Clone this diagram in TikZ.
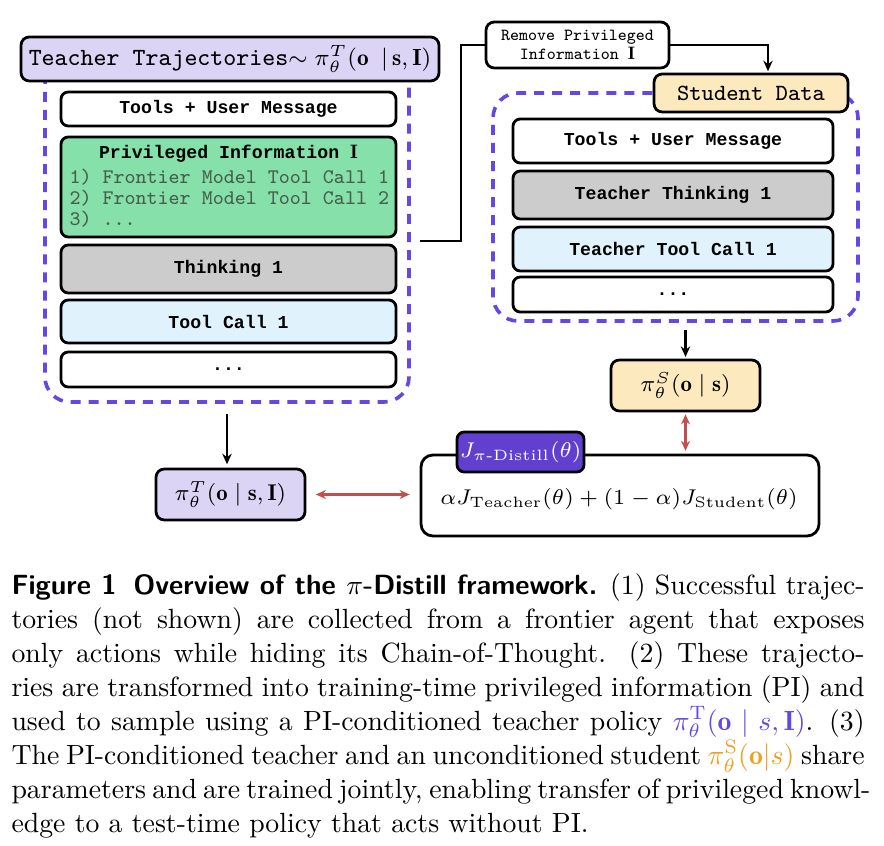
\RequirePackage{fix-cm}
\documentclass[tikz,border=0pt]{standalone}
\usepackage{amsmath}
\usepackage{fontspec}
\usetikzlibrary{arrows.meta,calc}
\newfontfamily\monob{Liberation Mono}
\definecolor{lav}{RGB}{220,212,245}
\definecolor{purp}{RGB}{103,70,226}
\definecolor{grn}{RGB}{134,224,170}
\definecolor{gry}{RGB}{204,204,204}
\definecolor{lblue}{RGB}{224,243,253}
\definecolor{orng}{RGB}{253,233,190}
\definecolor{jpurp}{RGB}{97,64,208}
\definecolor{redar}{RGB}{192,80,77}
\definecolor{capblue}{RGB}{100,72,228}
\definecolor{caporange}{RGB}{238,160,30}
\definecolor{listc}{RGB}{70,96,78}
\tikzset{
  rect/.style n args={4}{at={({(#1+#3)/2},{(#2+#4)/2})}, minimum width={(#3-#1)*0.36pt}, minimum height={(#4-#2)*0.36pt}},
  box/.style={draw=black, line width=1pt, rounded corners=2.6pt, inner sep=0pt, anchor=center},
  btt/.style={font=\monob\bfseries\fontsize{6.55}{7.5}\selectfont},
  dmath/.style={font=\fontsize{8.2}{10}\selectfont},
  jmath/.style={font=\fontsize{7.7}{9}\selectfont},
  cont/.style={draw=purp, line width=1.3pt, dash pattern=on 3.6pt off 2.9pt, rounded corners=9pt, inner sep=0pt, anchor=center},
  arr/.style={-{Stealth[length=3.8pt,width=3.4pt]}, line width=0.75pt},
  rarr/.style={{Stealth[length=3.6pt,width=3.2pt]}-{Stealth[length=3.6pt,width=3.2pt]}, draw=redar, line width=0.75pt},
  conn/.style={line width=0.75pt},
  capline/.style={anchor=base west, inner sep=0pt, font=\fontsize{10}{12}\selectfont},
  listline/.style={anchor=base west, inner sep=0pt, text=listc, font=\ttfamily\fontsize{7.47}{8}\selectfont}
}
\begin{document}
\begin{tikzpicture}[x=0.36pt,y=-0.36pt]
\fill[white] (0,0) rectangle (884,846);
\useasboundingbox (0,0) rectangle (884,846);

% ---------- left: teacher trajectories ----------
\node[cont, rect={45}{59}{409}{402}] (lc) {};
\node[box, fill=lav, rounded corners=3pt, rect={21}{37}{439}{81}, font=\fontsize{8.4}{10}\selectfont] (hdr)
  {{\ttfamily\fontsize{8.9}{10}\selectfont Teacher Trajectories}$\sim\pi^T_\theta(\mathbf{o}\ \,|\,\mathbf{s},\mathbf{I})$};
\node[box, btt, fill=white, rect={61}{92}{396}{126}] (ltools) {Tools + User Message};
\node[box, fill=grn, rect={61}{137}{396}{237}] (lpriv) {};
\node[btt, anchor=base, inner sep=0pt] (ptitle) at (228.5,159) {Privileged Information {\fontsize{7}{8}\selectfont$\mathbf{I}$}};
\node[listline] (pl1) at (69,184) {1) Frontier Model Tool Call 1};
\node[listline] (pl2) at (69,205) {2) Frontier Model Tool Call 2};
\node[listline] (pl3) at (69,226) {3) ...};
\node[box, btt, fill=gry, rect={61}{245}{396}{293}] (lthink) {Thinking 1};
\node[box, btt, fill=lblue, rect={61}{300}{396}{343}] (ltool) {Tool Call 1};
\node[box, btt, fill=white, rect={61}{352}{396}{387}] (ldots) {...};

% ---------- right: student data ----------
\node[cont, rect={493}{93}{858}{321}] (rc) {};
\node[box, fill=white, rounded corners=3pt, align=center, rect={486}{22}{669}{68}, font=\ttfamily\fontsize{6.1}{6.85}\selectfont] (rm)
  {Remove Privileged\\Information {\fontsize{6.5}{7}\selectfont$\mathbf{I}$}};
\node[box, fill=orng, rounded corners=3pt, rect={654}{74}{848}{112}, font=\ttfamily\fontsize{8.36}{10}\selectfont] (sd) {Student Data};
\node[box, btt, fill=white, rect={513}{119}{833}{163}] (rtools) {Tools + User Message};
\node[box, btt, fill=gry, rect={513}{171}{833}{219}] (rthink) {Teacher Thinking 1};
\node[box, btt, fill=lblue, rect={513}{227}{833}{271}] (rtool) {Teacher Tool Call 1};
\node[box, btt, fill=white, rect={513}{277}{833}{312}] (rdots) {...};

% ---------- policies and objective ----------
\node[box, dmath, fill=orng, rounded corners=3pt, rect={611}{360}{760}{411}] (piS) {$\pi_\theta^S(\mathbf{o}\mid\mathbf{s})$};
\node[box, dmath, fill=lav, rounded corners=3pt, rect={156}{469}{305}{520}] (piT) {$\pi_\theta^T(\mathbf{o}\mid\mathbf{s},\mathbf{I})$};
\node[box, fill=white, rounded corners=4.3pt, rect={421}{455}{819}{536}] (J) {};
\node[jmath, inner sep=0pt] (Jtxt) at (619,499)
  {$\alpha J_{\mathrm{Teacher}}(\theta)+(1-\alpha)J_{\mathrm{Student}}(\theta)$};
\node[box, jmath, fill=jpurp, text=white, rounded corners=2.6pt, rect={457}{432}{584}{472}] (Jlab)
  {$J_{\pi\text{-}\mathrm{Distill}}(\theta)$};

% ---------- connectors ----------
\coordinate (lcout) at (420,241);
\coordinate (bend) at (461,241);
\coordinate (sdin) at (768,74);
\draw[conn] (lcout) -- (bend) |- (rm.west);
\draw[arr, shorten >=1pt] (rm.east) -| (sdin);
\draw[arr, shorten <=3.6pt, shorten >=1.2pt] (lc.south) -- (lc.south |- piT.north);
\draw[arr, shorten <=2.5pt, shorten >=0.6pt] (rc.south -| piS.north) -- (piS.north);
\draw[rarr, shorten <=0.7pt, shorten >=1pt] (piS.south) -- (piS.south |- J.north);
\draw[rarr, shorten <=3.4pt, shorten >=3.6pt] (piT.east) -- (piT.east -| J.west);

% ---------- caption ----------
\def\cw{307.1pt}
\node[capline] (cap1) at (11,594) {\makebox[\cw][s]{{\sffamily\bfseries Figure 1}\hskip0.6em{\sffamily\bfseries Overview of the $\pi$-Distill framework.}\spacefactor3000{} (1) Successful trajec-}};
\node[capline] (cap2) at (11,628) {\makebox[\cw][s]{tories (not shown) are collected from a frontier agent that exposes}};
\node[capline] (cap3) at (11,662) {\makebox[\cw][s]{only actions while hiding its Chain-of-Thought. (2) These trajecto-}};
\node[capline] (cap4) at (11,696) {\makebox[\cw][s]{ries are transformed into training-time privileged information (PI) and}};
\node[capline] (cap5) at (11,730) {\makebox[\cw][s]{used to sample using a PI-conditioned teacher policy {\color{capblue}$\pi_\theta^{\mathrm{T}}(\mathbf{o}\mid s,\mathbf{I})$}. (3)}};
\node[capline] (cap6) at (11,764) {\makebox[\cw][s]{The PI-conditioned teacher and an unconditioned student {\color{caporange}$\pi_\theta^{\mathrm{S}}(\mathbf{o}|s)$} share}};
\node[capline] (cap7) at (11,798) {\makebox[\cw][s]{parameters and are trained jointly, enabling transfer of privileged knowl-}};
\node[capline] (cap8) at (11,832) {edge to a test-time policy that acts without PI.};
\end{tikzpicture}
\end{document}
